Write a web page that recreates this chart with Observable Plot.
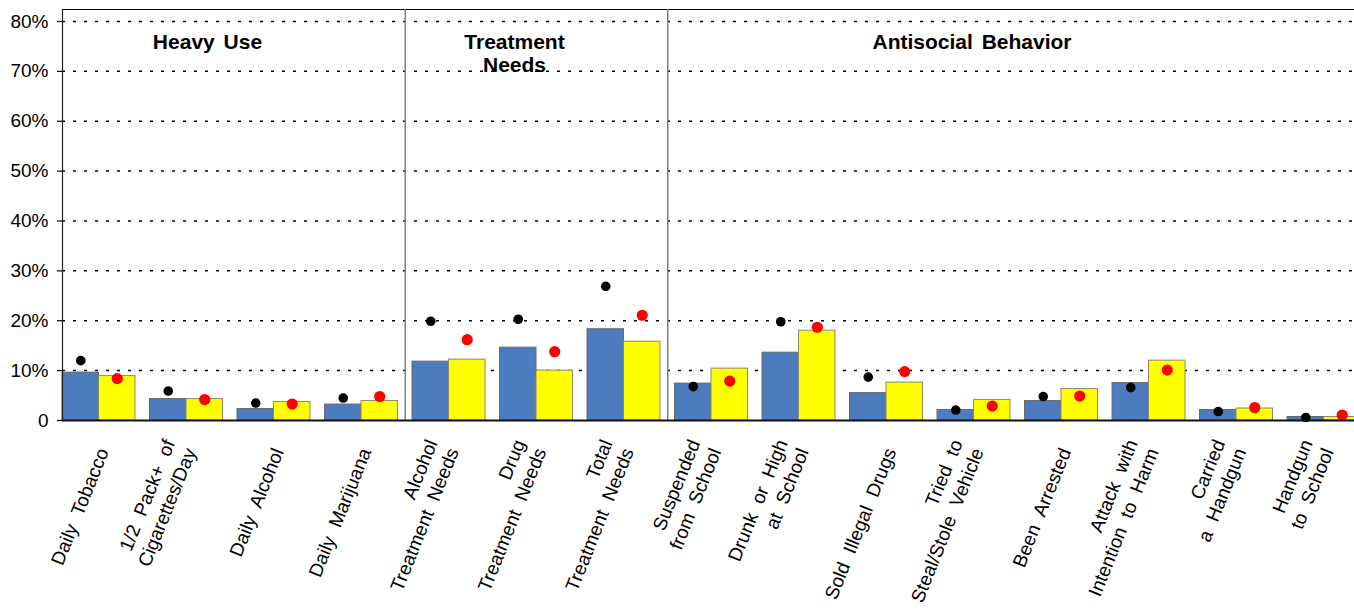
<!DOCTYPE html>
<html><head><meta charset="utf-8">
<script src="https://cdn.jsdelivr.net/npm/d3@7"></script>
<script src="https://cdn.jsdelivr.net/npm/@observablehq/plot@0.6"></script>
<style>
html,body{margin:0;padding:0;background:#fff;overflow:hidden;width:1354px;height:612px}
svg text{word-spacing:3px}
svg .xlab text{word-spacing:6px}
</style>
</head><body><div id="chart"></div>
<script>
const categories = [
  "Daily Tobacco",
  "1/2 Pack+ of\nCigarettes/Day",
  "Daily Alcohol",
  "Daily Marijuana",
  "Alcohol\nTreatment Needs",
  "Drug\nTreatment Needs",
  "Total\nTreatment Needs",
  "Suspended\nfrom School",
  "Drunk or High\nat School",
  "Sold Illegal Drugs",
  "Tried to\nSteal/Stole Vehicle",
  "Been Arrested",
  "Attack with\nIntention to Harm",
  "Carried\na Handgun",
  "Handgun\nto School"
];
const blueBars   = [9.6, 4.3, 2.3, 3.2, 11.8, 14.6, 18.3, 7.4, 13.6, 5.5, 2.1, 3.9, 7.5, 2.1, 0.7];
const yellowBars = [8.9, 4.3, 3.7, 3.9, 12.2, 10.0, 15.8, 10.4, 18.0, 7.6, 4.1, 6.3, 12.0, 2.4, 0.7];
const blackDots  = [12.0, 5.9, 3.5, 4.5, 19.9, 20.3, 26.9, 6.8, 19.8, 8.7, 2.1, 4.8, 6.6, 1.8, 0.6];
const redDots    = [8.4, 4.2, 3.3, 4.8, 16.2, 13.8, 21.1, 7.9, 18.7, 9.8, 2.9, 4.9, 10.1, 2.6, 1.1];
const yTicks = [0, 10, 20, 30, 40, 50, 60, 70, 80];
const groupNames = ["Heavy Use", "Treatment\nNeeds", "Antisocial Behavior"];
const groupStart = [0, 4, 7];

const data = categories.map((c, i) => ({c, blue: blueBars[i], yellow: yellowBars[i], black: blackDots[i], red: redDots[i]}));

const range = [62, 1360], pin = 0.166;
const step = (range[1] - range[0]) / (categories.length - pin);
const bw = step * (1 - pin);
const yMax = 82.4;

const titleAnchor = [1, 5, 10];
const titleDx = [21, -22, -2];

const chart = Plot.plot({
  width: 1354, height: 612,
  marginTop: 9, marginBottom: 192, marginLeft: 62, marginRight: 0,
  style: {fontFamily: "'Liberation Sans', Arial, sans-serif", color: "black", background: "white", overflow: "hidden"},
  x: {domain: categories, range, paddingInner: pin, paddingOuter: 0, align: 0, round: false, axis: null},
  y: {domain: [0, yMax], range: [420, 9], axis: null},
  marks: [
    Plot.ruleY(yTicks.filter(d => d > 0), {stroke: "black", strokeWidth: 1.5, strokeDasharray: "3,8"}),
    Plot.ruleY([yMax], {stroke: "black", strokeWidth: 1}),
    Plot.ruleX(groupStart.slice(1).map(i => categories[i]), {x: d => d, y1: 0, y2: yMax, dx: -step / 2, stroke: "#808080", strokeWidth: 1.5}),
    Plot.barY(data, {x: "c", y: "blue", fill: "#4C7CBE", stroke: "#6a6a6a", strokeWidth: 1, insetRight: bw / 2}),
    Plot.barY(data, {x: "c", y: "yellow", fill: "#FFFF00", stroke: "#8a8a6a", strokeWidth: 1, insetLeft: bw / 2}),
    Plot.dot(data, {x: "c", y: "black", dx: -bw / 4, r: 4.8, fill: "black", stroke: "none"}),
    Plot.dot(data, {x: "c", y: "red", dx: bw / 4, r: 5.6, fill: "#FF0000", stroke: "none"}),
    Plot.ruleY([0], {stroke: "#111", strokeWidth: 2}),
    Plot.ruleX([categories[0]], {x: d => d, y1: 0, y2: yMax, dx: -bw / 2, stroke: "#222", strokeWidth: 1.2}),
    Plot.axisY({ticks: yTicks, tickFormat: d => d === 0 ? "0" : d + "%", tickSize: 5, tickPadding: 9, fontSize: 19, stroke: "black", strokeWidth: 1.2}),
    Plot.text(categories, {x: d => d, frameAnchor: "bottom", dy: 31, dx: 10, rotate: -68, textAnchor: "end", lineAnchor: "bottom", fontSize: 19, lineHeight: 1.2, fill: "black", className: "xlab"}),
    ...groupNames.map((g, i) => Plot.text([g], {
      x: () => categories[titleAnchor[i]], text: d => d,
      frameAnchor: "top", dy: 23, dx: titleDx[i], lineAnchor: "top",
      fontSize: 21, fontWeight: "bold", lineHeight: 1.1, fill: "black"
    }))
  ]
});
document.getElementById("chart").appendChild(chart);
</script>
</body></html>
